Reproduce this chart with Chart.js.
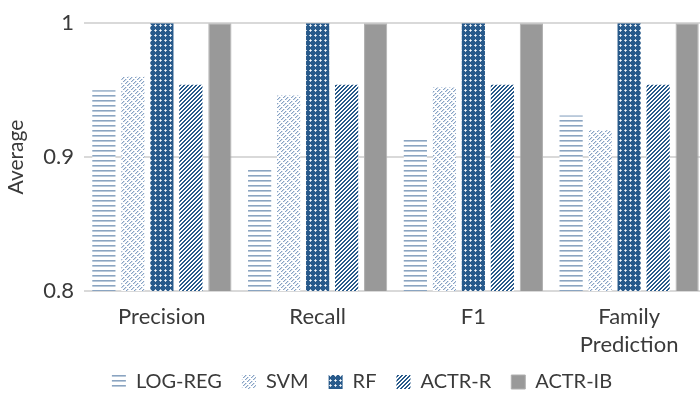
<!DOCTYPE html>
<html>
<head>
<meta charset="utf-8">
<script src="https://cdn.jsdelivr.net/npm/chart.js@4"></script>
<style>
  html, body { margin: 0; padding: 0; overflow: hidden; background: #fff; }
  #wrap { width: 707px; height: 399px; overflow: hidden; }
</style>
</head>
<body>
<div id="wrap"><canvas id="c" width="707" height="416"></canvas></div>
<script>
// Average scores per metric and model
const categories = ['Precision', 'Recall', 'F1', ['Family', 'Prediction']];
const seriesNames = ['LOG-REG', 'SVM', 'RF', 'ACTR-R', 'ACTR-IB'];
const logRegValues = [0.950, 0.891, 0.913, 0.931];
const svmValues    = [0.960, 0.946, 0.952, 0.920];
const rfValues     = [1.000, 1.000, 1.000, 1.000];
const actrRValues  = [0.954, 0.954, 0.954, 0.954];
const actrIbValues = [1.000, 1.000, 1.000, 1.000];
const yTickLabels  = ['0.8', '0.9', '1'];

const canvas = document.getElementById('c');
const ctx = canvas.getContext('2d');

// Small repeating tiles used as bar fills
function makePattern(w, h, paint) {
  const t = document.createElement('canvas');
  t.width = w; t.height = h;
  const g = t.getContext('2d');
  g.fillStyle = '#ffffff';
  g.fillRect(0, 0, w, h);
  for (let y = 0; y < h; y++) {
    for (let x = 0; x < w; x++) {
      const col = paint(x, y);
      if (col) { g.fillStyle = col; g.fillRect(x, y, 1, 1); }
    }
  }
  return ctx.createPattern(t, 'repeat');
}

const DARK = '#285a8b';

// horizontal lines
const hLines = makePattern(4, 5, (x, y) => y === 0 ? '#8aa4c1' : (y === 1 ? '#b9c9da' : null));
// light dashed upward diagonal
const lightDiag = makePattern(8, 8, (x, y) => {
  const d = (x + y) % 4;
  const seg = ((x - y) % 8 + 8) % 8;
  if (d === 0 && seg !== 0 && seg !== 1) return '#86a2c5';
  if (d === 1 && seg !== 0 && seg !== 1) return '#d3dde9';
  return null;
});
// dark grid with white crosses
const crossGrid = makePattern(5, 5, (x, y) => {
  if (x === 0 && y === 0) return '#ffffff';
  if ((y === 0 && (x === 1 || x === 4)) || (x === 0 && (y === 1 || y === 4))) return '#c3d0de';
  return DARK;
});
// dark upward diagonal
const darkDiag = makePattern(4, 4, (x, y) => ((x + y) % 4) < 2 ? DARK : null);

const fills = [hLines, lightDiag, crossGrid, darkDiag, '#999999'];
const values = [logRegValues, svmValues, rfValues, actrRValues, actrIbValues];

const datasets = seriesNames.map((name, i) => ({
  label: name,
  data: values[i],
  backgroundColor: fills[i],
  borderColor: i === 4 ? '#b0b0b0' : 'rgba(0,0,0,0)',
  borderWidth: i === 4 ? 1 : 0,
  barPercentage: 0.80,
  categoryPercentage: 0.931
}));

const TEXT = '#3a3a3a';
const FONT = 'Lato, "DejaVu Sans", sans-serif';
const LEGEND_PAD = 20;
const LEGEND_FONT = 20;

// centres the legend row under the plot
const legendPlacer = {
  id: 'legendPlacer',
  afterLayout(chart) {
    const l = chart.legend;
    if (!l || !l.lineWidths) return;
    const rowW = l.lineWidths[0] - LEGEND_PAD;
    const newLeft = 362 - rowW / 2 - LEGEND_PAD;
    const dx = newLeft - l.left;
    const dy = 382 - (l.top + LEGEND_PAD + LEGEND_FONT / 2);
    l.left += dx; l.right += dx;
    l.top += dy; l.bottom += dy;
  }
};

new Chart(ctx, {
  type: 'bar',
  data: { labels: categories, datasets },
  plugins: [legendPlacer],
  options: {
    responsive: false,
    animation: false,
    devicePixelRatio: 1,
    layout: { padding: { top: 20, left: 0, right: 0, bottom: 0 } },
    plugins: {
      tooltip: { enabled: false },
      legend: {
        position: 'bottom',
        align: 'start',
        labels: {
          boxWidth: 14,
          boxHeight: 14,
          padding: LEGEND_PAD,
          color: TEXT,
          font: { family: FONT, size: LEGEND_FONT }
        }
      }
    },
    scales: {
      x: {
        grid: { display: false },
        border: { display: false },
        ticks: {
          color: TEXT,
          padding: 4,
          font: { family: FONT, size: 22, lineHeight: 1.27 }
        },
        afterFit(s) { s.height = 416 - 291 - s.chart.legend.height; }
      },
      y: {
        min: 0.8,
        max: 1,
        border: { display: false },
        grid: { color: '#d9d9d9', lineWidth: 2, drawTicks: false },
        ticks: {
          stepSize: 0.1,
          padding: 10,
          color: TEXT,
          font: { family: FONT, size: 22 },
          callback: (v, i) => yTickLabels[i]
        },
        title: {
          display: true,
          text: 'Average',
          color: TEXT,
          padding: { top: 4, bottom: 0 },
          font: { family: FONT, size: 21 }
        },
        afterFit(s) { s.width = 84; }
      }
    }
  }
});
</script>
</body>
</html>
